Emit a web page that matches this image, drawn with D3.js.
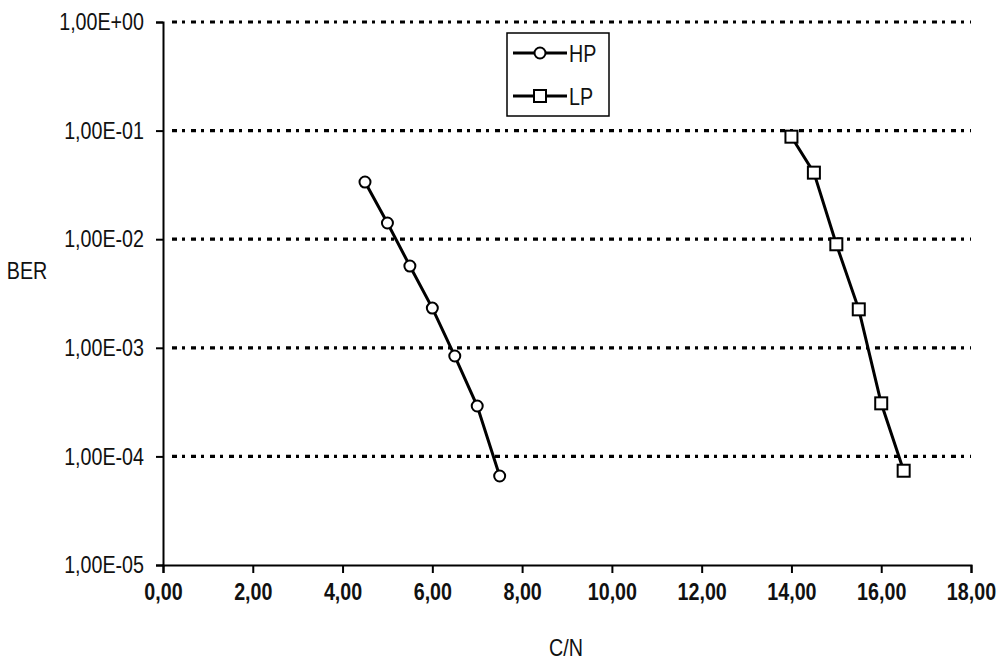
<!DOCTYPE html>
<html>
<head>
<meta charset="utf-8">
<script src="https://cdn.jsdelivr.net/npm/d3@7"></script>
<style>
  body { margin: 0; background: #fff; }
  text { font-family: "Liberation Sans", Arial, sans-serif; fill: #111; }
</style>
</head>
<body>
<div id="chart"></div>
<script>
// C/N values and measured BER for each layer
var hp_cn  = [4.5, 5.0, 5.5, 6.0, 6.5, 7.0, 7.5];
var hp_ber = [0.0336, 0.0141, 0.00566, 0.00232, 0.00084, 0.000291, 0.000066];
var lp_cn  = [14.0, 14.5, 15.0, 15.5, 16.0, 16.5];
var lp_ber = [0.0879, 0.041, 0.00898, 0.00226, 0.000308, 0.0000738];

var x_ticks = [0, 2, 4, 6, 8, 10, 12, 14, 16, 18];
var x_tick_labels = ["0,00", "2,00", "4,00", "6,00", "8,00", "10,00", "12,00", "14,00", "16,00", "18,00"];
var y_ticks = [1, 1e-1, 1e-2, 1e-3, 1e-4, 1e-5];
var y_tick_labels = ["1,00E+00", "1,00E-01", "1,00E-02", "1,00E-03", "1,00E-04", "1,00E-05"];

var width = 1002, height = 662;
var margin = {top: 22, bottom: 97, left: 163, right: 31};

var svg = d3.select("#chart")
  .append("svg")
  .attr("width", width)
  .attr("height", height);

var x = d3.scaleLinear()
  .domain([0, 18])
  .range([margin.left, width - margin.right]);

var y = d3.scaleLog()
  .domain([1e-5, 1])
  .range([height - margin.bottom, margin.top]);

// dotted gridlines (not on the bottom decade, that's the axis)
svg.append("g").attr("class", "grid")
  .selectAll("line")
  .data(y_ticks.filter(d => d > 1e-5))
  .join("line")
  .attr("x1", x(0) + 9)
  .attr("x2", x(18))
  .attr("y1", d => y(d))
  .attr("y2", d => y(d))
  .attr("stroke", "#000")
  .attr("stroke-width", 3.2)
  .attr("stroke-dasharray", "5,5,3,6");

// y axis
var yAxis = svg.append("g")
  .attr("transform", `translate(${x(0)},0)`)
  .call(d3.axisLeft(y)
    .tickValues(y_ticks)
    .tickSize(7)
    .tickPadding(12)
    .tickFormat((d, i) => y_tick_labels[i]));
yAxis.select(".domain").attr("stroke-width", 2);
yAxis.selectAll(".tick line").attr("stroke-width", 2);
yAxis.selectAll("text").style("font-size", "24px").attr("fill", "#111");

// x axis
var xAxis = svg.append("g")
  .attr("transform", `translate(0,${y(1e-5)})`)
  .call(d3.axisBottom(x)
    .tickValues(x_ticks)
    .tickSize(8)
    .tickPadding(10)
    .tickFormat((d, i) => x_tick_labels[i]));
xAxis.select(".domain").attr("stroke-width", 2);
xAxis.selectAll(".tick line").attr("stroke-width", 2);
xAxis.selectAll("text").style("font-size", "24px").attr("font-weight", "bold").attr("fill", "#111");

// axis titles
svg.append("text")
  .attr("x", 27)
  .attr("y", 279)
  .attr("text-anchor", "middle")
  .style("font-size", "24px")
  .text("BER");

svg.append("text")
  .attr("x", 566)
  .attr("y", 656)
  .attr("text-anchor", "middle")
  .style("font-size", "24px")
  .text("C/N");

var myPath = d3.line()
  .x(d => x(d[0]))
  .y(d => y(d[1]));

var hp = hp_cn.map((c, i) => [c, hp_ber[i]]);
var lp = lp_cn.map((c, i) => [c, lp_ber[i]]);

[hp, lp].forEach(t => {
  svg.append("path")
    .datum(t)
    .attr("fill", "none")
    .attr("stroke", "#000")
    .attr("stroke-width", 3)
    .attr("d", myPath);
});

svg.append("g").selectAll("circle")
  .data(hp)
  .join("circle")
  .attr("cx", d => x(d[0]))
  .attr("cy", d => y(d[1]))
  .attr("r", 5.5)
  .attr("fill", "#fff")
  .attr("stroke", "#000")
  .attr("stroke-width", 2);

svg.append("g").selectAll("rect")
  .data(lp)
  .join("rect")
  .attr("x", d => x(d[0]) - 6)
  .attr("y", d => y(d[1]) - 6)
  .attr("width", 12)
  .attr("height", 12)
  .attr("fill", "#fff")
  .attr("stroke", "#000")
  .attr("stroke-width", 2);

// legend
var legend = svg.append("g").attr("class", "legend");
legend.append("rect")
  .attr("x", 507)
  .attr("y", 33)
  .attr("width", 102)
  .attr("height", 83)
  .attr("fill", "#fff")
  .attr("stroke", "#000")
  .attr("stroke-width", 1.5);

var rows = [{name: "HP", y: 53}, {name: "LP", y: 96}];
rows.forEach((r, i) => {
  legend.append("line")
    .attr("x1", 513).attr("x2", 567)
    .attr("y1", r.y).attr("y2", r.y)
    .attr("stroke", "#000")
    .attr("stroke-width", 3);
  if (i == 0) {
    legend.append("circle")
      .attr("cx", 540).attr("cy", r.y).attr("r", 5.5)
      .attr("fill", "#fff").attr("stroke", "#000").attr("stroke-width", 2);
  } else {
    legend.append("rect")
      .attr("x", 534).attr("y", r.y - 6).attr("width", 12).attr("height", 12)
      .attr("fill", "#fff").attr("stroke", "#000").attr("stroke-width", 2);
  }
  legend.append("text")
    .attr("x", 569)
    .attr("y", r.y + 9)
    .style("font-size", "24px")
    .text(r.name);
});

// the original uses a narrow face; squeeze every label horizontally
svg.selectAll("text").each(function() {
  var len = this.getComputedTextLength();
  d3.select(this)
    .attr("textLength", len * 0.82)
    .attr("lengthAdjust", "spacingAndGlyphs");
});
</script>
</body>
</html>
